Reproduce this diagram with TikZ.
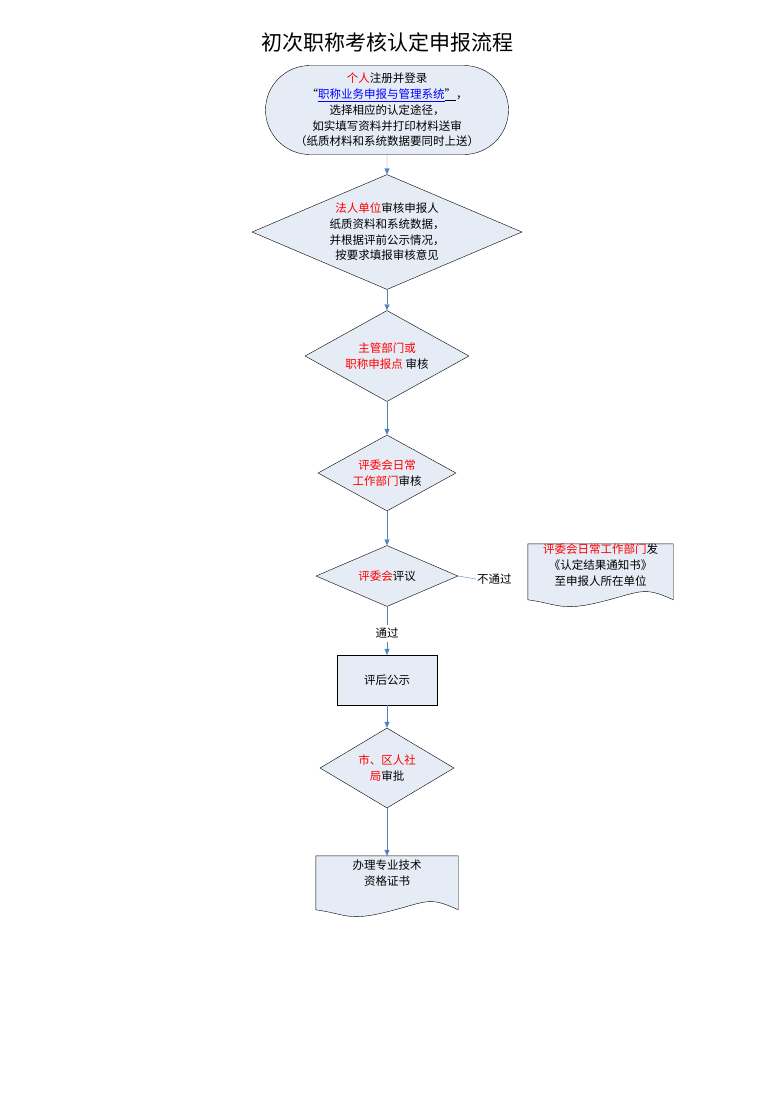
\documentclass[tikz,border=0pt]{standalone}
\usepackage{fontspec}
\setmainfont{Noto Sans CJK SC}
\usetikzlibrary{shapes.geometric,shapes.misc,arrows.meta,calc}
\definecolor{flowline}{HTML}{4F81BD}
\definecolor{flowfill}{HTML}{E6ECF6}
\newcommand{\hl}[1]{\textcolor{red}{#1}}
\tikzset{%
  flowbox/.style={draw=black, fill=flowfill, align=center, inner sep=0pt,
    font=\fontsize{11.5}{15.7}\selectfont},
  decision/.style={flowbox, diamond},
  docnode/.style={align=center, inner sep=0pt, minimum width=#1,
    font=\fontsize{11.5}{15.7}\selectfont},
  flow/.style={draw=flowline, -{Triangle[length=6pt,width=5pt]}},
}
\begin{document}
\begin{tikzpicture}[x=1pt, y=-1pt]
\useasboundingbox (0,0) rectangle (776,1093);
%title
\node (title) at (387,42) {\fontsize{21}{24}\selectfont 初次职称考核认定申报流程};

%start
\node [flowbox, rounded rectangle, minimum width=243pt, minimum height=89pt] (start) at (387,110)
 {\hl{个人}注册并登录\\
  “\textcolor{blue}{\underline{职称业务申报与管理系统}}\underline{”}，\\
  选择相应的认定途径，\\ 如实填写资料并打印材料送审\\ （纸质材料和系统数据要同时上送）};

%decisions
\node [decision, aspect=2.35, minimum width=270pt, minimum height=115pt] (unit) at (387,232)
 {\hl{法人单位}审核申报人\\ 纸质资料和系统数据，\\ 并根据评前公示情况，\\ 按要求填报审核意见};
\node [decision, aspect=1.8, minimum width=164pt, minimum height=91pt] (dept) at (387,356)
 {\hl{主管部门或}\\ \hl{职称申报点}\ 审核};
\node [decision, aspect=1.8, minimum width=138pt, minimum height=76pt] (office) at (387,473)
 {\hl{评委会日常}\\ \hl{工作部门}审核};
\node [decision, aspect=2.3, minimum width=142pt, minimum height=61pt] (review) at (387,576)
 {\hl{评委会}评议};
\node [flowbox, rectangle, minimum width=100pt, minimum height=50pt] (notice) at (387,680) {评后公示};
\node [decision, aspect=1.7, minimum width=134pt, minimum height=80pt] (bureau) at (387,768)
 {\hl{市、区人社}\\ \hl{局}审批};

%documents
\node [docnode=145pt, minimum height=56pt] (reject) at (600.5,572) {};
\draw [fill=flowfill] (reject.north west) -- (reject.north east) -- ++(0,56)
  .. controls ++(-30,-14) and ++(40,-10) .. ++(-72,2)
  .. controls ++(-40,10) and ++(30,4) .. ($(reject.north west)+(0,56)$) -- cycle;
\node [docnode=145pt, anchor=north] (rejtext) at (reject.north) {\hl{评委会日常工作部门}发\\《认定结果通知书》\\至申报人所在单位};

\node [docnode=142pt, minimum height=54pt] (cert) at (387,883) {};
\draw [fill=flowfill] (cert.north west) -- (cert.north east) -- ++(0,54)
  .. controls ++(-30,-14) and ++(40,-10) .. ++(-71,2)
  .. controls ++(-40,10) and ++(30,4) .. ($(cert.north west)+(0,54)$) -- cycle;
\node [docnode=142pt, anchor=north] (certtext) at ([yshift=-4pt]cert.north) {办理专业技术\\资格证书};

%connections
\draw [flow] (start) -- (unit);
\draw [flow] (unit) -- (dept);
\draw [flow] (dept) -- (office);
\draw [flow] (office) -- (review);
\draw [flow] (review) -- node [fill=white, font=\fontsize{11.5}{14}\selectfont, pos=0.55] (pass) {通过} (notice);
\draw [flow] (notice) -- (bureau);
\draw [flow] (bureau) -- (cert);
\node [anchor=west, font=\fontsize{11.5}{14}\selectfont, inner sep=1pt] (fail) at (476,579) {不通过};
\draw [draw=flowline] (review.east) -- (fail.west);
\end{tikzpicture}
\end{document}
